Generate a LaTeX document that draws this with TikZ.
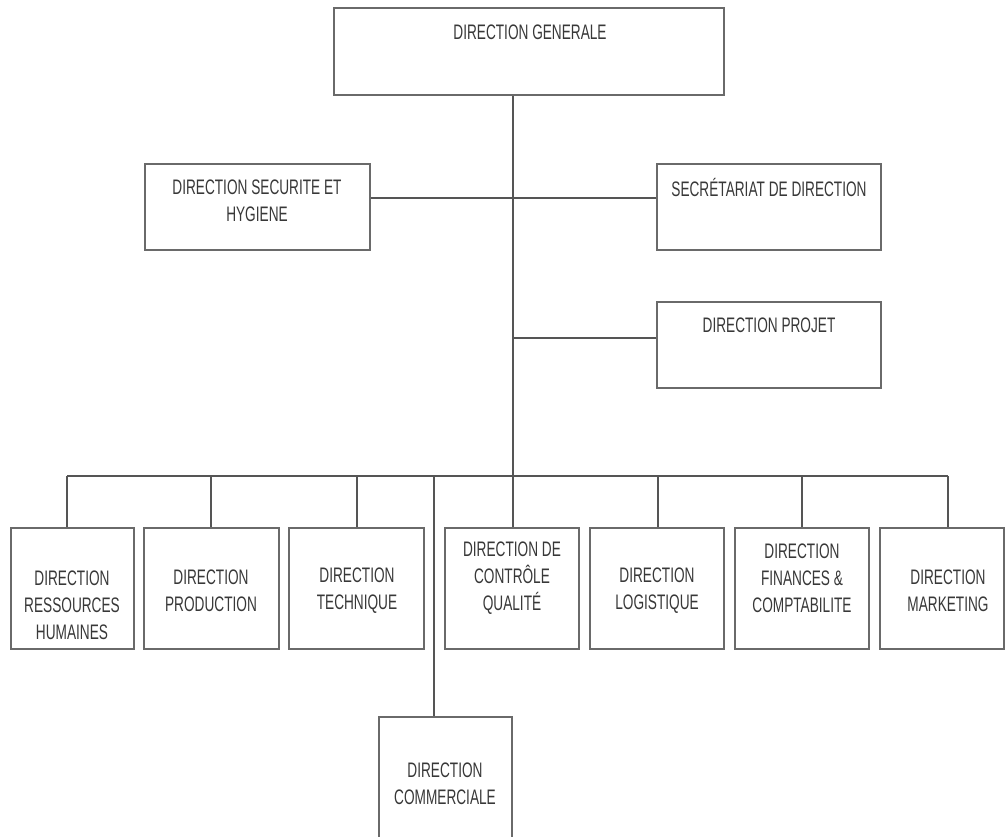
\documentclass[tikz,border=0pt]{standalone}
\usepackage{fontspec}
\setmainfont{Liberation Sans}[FakeStretch=0.65]
\definecolor{boxline}{HTML}{6A6A6A}
\definecolor{conline}{HTML}{555555}
\definecolor{txt}{HTML}{383838}
\begin{document}
\begin{tikzpicture}[x=1pt,y=-1pt,
  box/.style={draw=boxline,line width=1.8pt,fill=white,minimum width=#1,inner sep=0pt},
  lbl/.style={text=txt,align=center,font=\fontsize{21}{27}\selectfont,inner sep=0pt},
  con/.style={draw=conline,line width=1.4pt}]
\useasboundingbox (0,0) rectangle (1006,836);
% connector junctions
\coordinate (j1) at (513,198);
\coordinate (j2) at (513,338);
\coordinate (bus) at (513,476);
\coordinate (b1) at (67,476);
\coordinate (b2) at (211,476);
\coordinate (b3) at (357,476);
\coordinate (b5) at (658,476);
\coordinate (b6) at (802,476);
\coordinate (b7) at (948,476);
\coordinate (bc) at (434,476);
% boxes
\node[box=390pt,minimum height=87pt] (dg) at (529,51.5) {};
\node[box=225pt,minimum height=86pt] (secu) at (257.5,207) {};
\node[box=224pt,minimum height=86pt] (secr) at (769,207) {};
\node[box=224pt,minimum height=86pt] (proj) at (769,345) {};
\node[box=123pt,minimum height=121pt] (rh) at (72.5,588.5) {};
\node[box=135pt,minimum height=121pt] (prod) at (211.5,588.5) {};
\node[box=135pt,minimum height=121pt] (tech) at (356.5,588.5) {};
\node[box=134pt,minimum height=121pt] (cq) at (512,588.5) {};
\node[box=134pt,minimum height=121pt] (log) at (657,588.5) {};
\node[box=134pt,minimum height=121pt] (fin) at (802,588.5) {};
\node[box=124pt,minimum height=121pt] (mk) at (942,588.5) {};
\node[box=133pt,minimum height=128pt] (com) at (445.5,781) {};
% connector lines
\draw[con] (dg.south -| bus) -- (cq.north -| bus);
\draw[con] (secu.east |- j1) -- (secr.west |- j1);
\draw[con] (j2) -- (proj.west |- j2);
\draw[con] (b1) -- (b7);
\draw[con] (b1) -- (b1 |- rh.north);
\draw[con] (b2) -- (b2 |- prod.north);
\draw[con] (b3) -- (b3 |- tech.north);
\draw[con] (b5) -- (b5 |- log.north);
\draw[con] (b6) -- (b6 |- fin.north);
\draw[con] (b7) -- (b7 |- mk.north);
\draw[con] (bc) -- (bc |- com.north);
% labels
\node[lbl] (tdg) at (530,32) {DIRECTION GENERALE};
\node[lbl] (tsecu) at (257,200.5) {DIRECTION SECURITE ET\\HYGIENE};
\node[lbl] (tsecr) at (769,187) {SECRÉTARIAT DE DIRECTION};
\node[lbl] (tproj) at (769,325) {DIRECTION PROJET};
\node[lbl] (trh) at (72,605) {DIRECTION\\RESSOURCES\\HUMAINES};
\node[lbl] (tprod) at (211,591) {DIRECTION\\PRODUCTION};
\node[lbl] (ttech) at (357,591) {DIRECTION\\TECHNIQUE};
\node[lbl] (tcq) at (512,578) {DIRECTION DE\\CONTRÔLE\\QUALITÉ};
\node[lbl] (tlog) at (657,591) {DIRECTION\\LOGISTIQUE};
\node[lbl] (tfin) at (802,578) {DIRECTION\\FINANCES \&\\COMPTABILITE};
\node[lbl] (tmk) at (948,591) {DIRECTION\\MARKETING};
\node[lbl] (tcom) at (445,784) {DIRECTION\\COMMERCIALE};
\end{tikzpicture}
\end{document}
